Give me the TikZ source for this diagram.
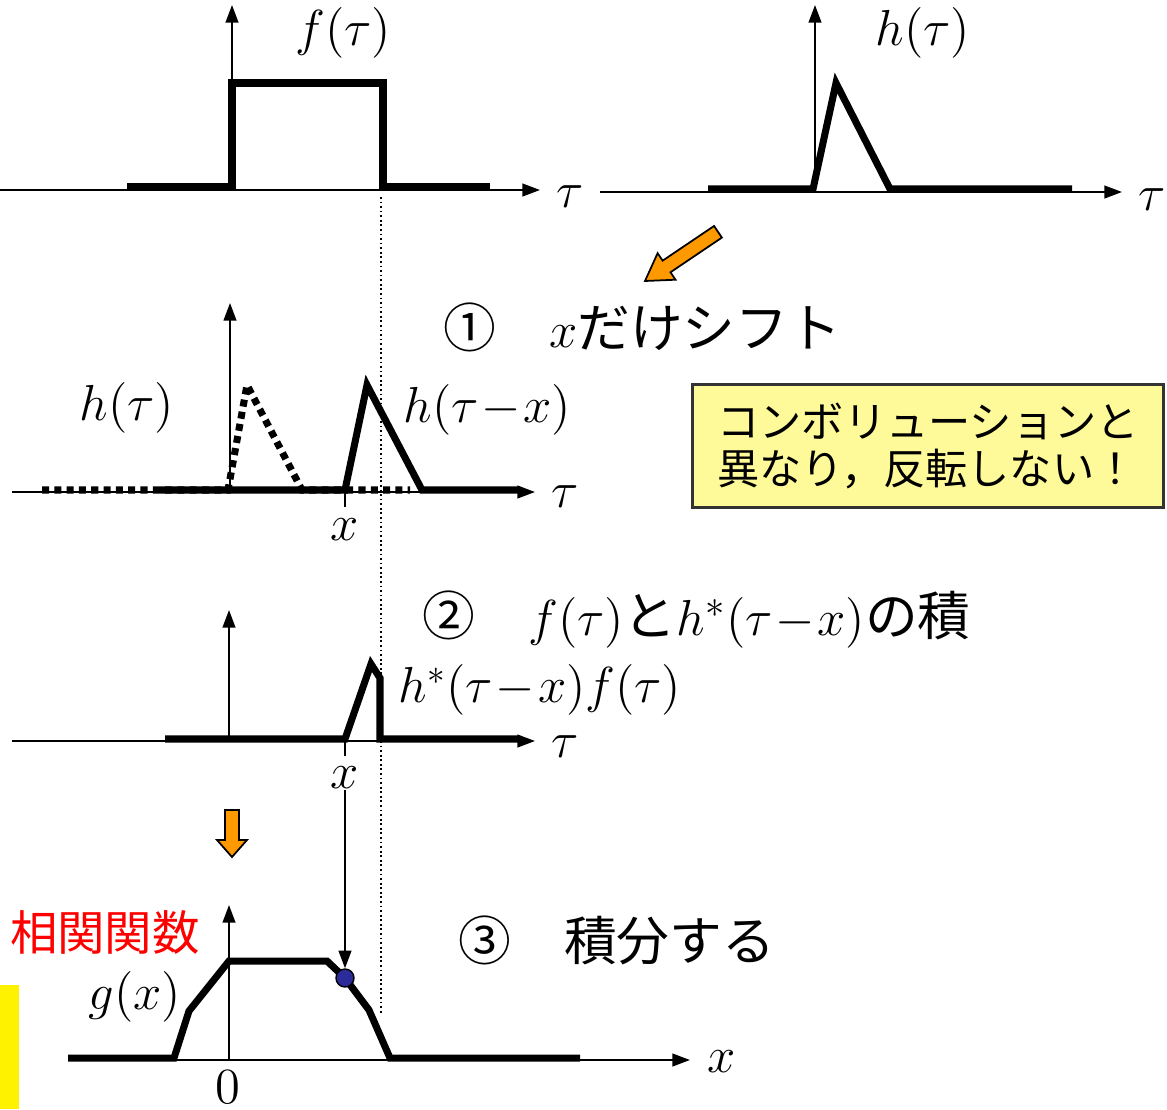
\documentclass[tikz,border=0pt]{standalone}
\usepackage{amsmath}
\usepackage{fontspec}
\newfontfamily\jpfont{Noto Sans CJK JP}
\usetikzlibrary{arrows.meta}

\definecolor{arrorange}{RGB}{255,153,0}
\definecolor{dotblue}{RGB}{43,43,153}

\tikzset{
  axis/.style={line width=0.6pt, -{Triangle[length=5pt,width=3.6pt]}},
  sig/.style={line width=2pt},
  sigdot/.style={line width=2pt, dash pattern=on 2pt off 1.5pt},
  guide/.style={line width=0.4pt, dash pattern=on 0.5pt off 0.8pt},
  lbl/.style={font=\fontsize{14}{16}\selectfont, inner sep=0pt},
  jp/.style={font=\jpfont\fontsize{15}{18}\selectfont, inner sep=0pt},
  fatarrow/.style={fill=arrorange, draw=black, line width=0.5pt},
}

\begin{document}
\begin{tikzpicture}[x=0.01cm, y=-0.01cm]
\useasboundingbox (0,0) rectangle (1167,1109);

% --- Row 1: f(tau) and h(tau) ---
\def\rowA{190}
\draw[axis] (0,\rowA) -- (540,\rowA);
\draw[axis] (232,\rowA) -- (232,5);
\draw[sig] (127,\rowA-3) -- (232,\rowA-3) -- (232,83) -- (383,83) -- (383,\rowA-3) -- (490,\rowA-3);
\node[lbl] (fA) at (343,33) {$f(\tau)$};
\node[lbl] (tauA) at (570,197) {$\tau$};

\draw[axis] (600,\rowA+2) -- (1122,\rowA+2);
\draw[axis] (815,\rowA+2) -- (815,5);
\draw[sig] (708,\rowA-1) -- (813,\rowA-1) -- (836,83) -- (890,\rowA-1) -- (1072,\rowA-1);
\node[lbl] (hA) at (923,33) {$h(\tau)$};
\node[lbl] (tauB) at (1152,200) {$\tau$};

% orange arrow (shift)
\begin{scope}[shift={(645,281)}, rotate=214]
  \draw[fatarrow] (0,0) -- (-26,16) -- (-26,7) -- (-88,7) -- (-88,-7) -- (-26,-7) -- (-26,-16) -- cycle;
\end{scope}

% guide line
\draw[guide] (381,197) -- (381,1015);

% --- Row 2: shifted h ---
\def\rowB{492}
\node[jp, anchor=west] (stepA) at (443,327) {①\quad $x$だけシフト};
\draw[axis] (12,\rowB) -- (535,\rowB);
\draw[axis] (230,\rowB) -- (230,303);
\draw[sigdot] (42,\rowB-2) -- (228,\rowB-2) -- (247,385) -- (302,\rowB-2) -- (410,\rowB-2);
\draw[sig] (160,\rowB-2) -- (345,\rowB-2) -- (367,385) -- (422,\rowB-2) -- (520,\rowB-2);
\draw[line width=0.6pt] (345,\rowB) -- (345,\rowB+15);
\node[lbl] (hB) at (127,408) {$h(\tau)$};
\node[lbl, anchor=west] (hsB) at (403,410) {$h(\tau\!-\!x)$};
\node[lbl] (xA) at (345,530) {$x$};
\node[lbl] (tauC) at (565,497) {$\tau$};

\node[draw=black!80, line width=0.8pt, fill=yellow!40, minimum width=4.7cm, minimum height=1.23cm,
  align=left, font=\jpfont\fontsize{12}{13.5}\selectfont] (note) at (928,446)
  {コンボリューションと\\異なり，反転しない！};

% --- Row 3: product ---
\def\rowC{741}
\node[jp, anchor=west] (stepB) at (422,620) {②\quad $f(\tau)$と$h^{*}(\tau\!-\!x)$の積};
\draw[axis] (12,\rowC) -- (535,\rowC);
\draw[axis] (229,\rowC) -- (229,610);
\draw[sig] (165,\rowC-2) -- (345,\rowC-2) -- (371,664) -- (380,678) -- (380,\rowC-2) -- (520,\rowC-2);
\draw[line width=0.6pt] (345,\rowC) -- (345,\rowC+15);
\node[lbl, anchor=west] (prod) at (398,690) {$h^{*}(\tau\!-\!x)f(\tau)$};
\node[lbl] (xB) at (345,778) {$x$};
\node[lbl] (tauD) at (565,747) {$\tau$};

% orange arrow (down)
\begin{scope}[shift={(232,857)}, rotate=270]
  \draw[fatarrow] (0,0) -- (-17,15) -- (-17,7) -- (-47,7) -- (-47,-7) -- (-17,-7) -- (-17,-15) -- cycle;
\end{scope}

% --- Row 4: g(x) ---
\def\rowD{1060}
\node[jp, anchor=west] (stepC) at (458,940) {③\quad 積分する};
\node[jp, text=red, font=\jpfont\fontsize{13.5}{16}\selectfont] (corr) at (105,932) {相関関数};
\fill[yellow] (0,985) rectangle (19,1109);
\draw[axis] (68,\rowD) -- (690,\rowD);
\draw[axis] (229,\rowD) -- (229,905);
\draw[sig] (68,\rowD-2) -- (174,\rowD-2) -- (189,1011) -- (229,961) -- (327,961) -- (345,978)
  -- (369,1010) -- (390,\rowD-2) -- (580,\rowD-2);
\node[circle, draw, fill=dotblue, minimum size=0.18cm, inner sep=0pt, line width=0.4pt] (gdot) at (345,978) {};
\draw[axis] (xB) -- (gdot);
\node[lbl] (gl) at (135,997) {$g(x)$};
\node[lbl] (zero) at (228,1087) {$0$};
\node[lbl] (xC) at (722,1062) {$x$};

\end{tikzpicture}
\end{document}
